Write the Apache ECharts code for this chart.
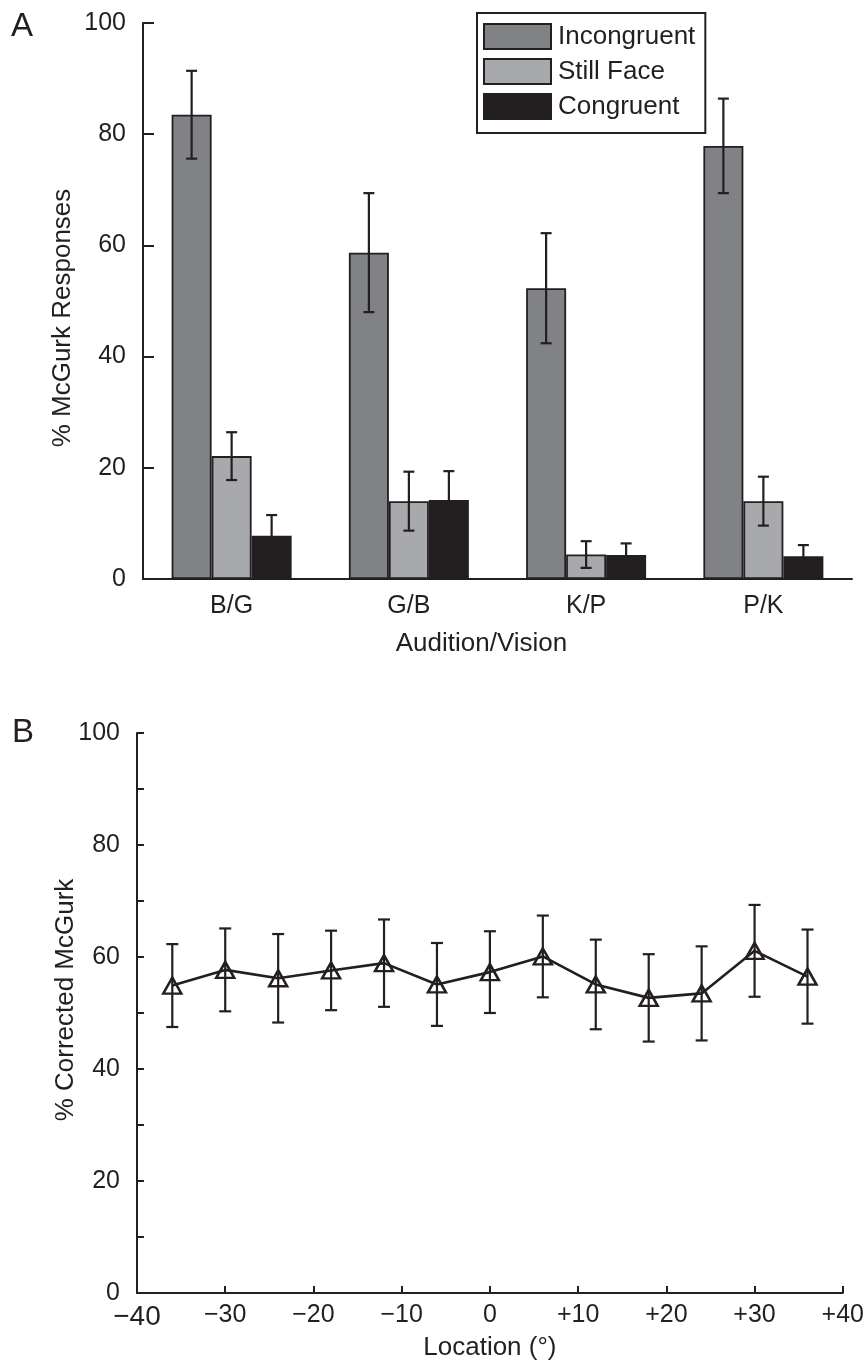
<!DOCTYPE html>
<html>
<head>
<meta charset="utf-8">
<script src="https://cdn.jsdelivr.net/npm/echarts@6/dist/echarts.min.js"></script>
<style>
html,body{margin:0;padding:0;background:#fff;}
#chart{width:867px;height:1362px;}
</style>
</head>
<body>
<div id="chart"></div>
<script>
// ---------- Panel A data ----------
const categoriesA = ['B/G', 'G/B', 'K/P', 'P/K'];
const seriesNamesA = ['Incongruent', 'Still Face', 'Congruent'];
const incongruent = [83.5, 58.7, 52.3, 77.9];
const incongruentErr = [7.9, 10.7, 9.9, 8.5];
const stillFace = [22.1, 14.0, 4.4, 14.0];
const stillFaceErr = [4.3, 5.3, 2.4, 4.4];
const congruent = [7.8, 14.2, 4.3, 4.1];
const congruentErr = [3.7, 5.2, 2.1, 2.0];
const yTicksA = [0, 20, 40, 60, 80, 100];

// ---------- Panel B data ----------
const locations = [-36, -30, -24, -18, -12, -6, 0, 6, 12, 18, 24, 30, 36];
const correctedMcGurk = [54.9, 57.7, 56.2, 57.6, 58.9, 55.1, 57.3, 60.1, 55.1, 52.7, 53.5, 61.1, 56.5];
const correctedErr = [7.4, 7.4, 7.9, 7.1, 7.8, 7.4, 7.3, 7.3, 8.0, 7.8, 8.4, 8.2, 8.4];
const xTicksB = [-40, -30, -20, -10, 0, 10, 20, 30, 40];

const INK = '#231f20';
const FONT = '"Liberation Sans", Arial, Helvetica, sans-serif';
const colorsA = ['#808285', '#a7a9ac', '#231f20'];
const BAR_W = 40;

const chart = echarts.init(document.getElementById('chart'), null, {renderer: 'canvas'});

const valsA = [incongruent, stillFace, congruent];
const errsA = [incongruentErr, stillFaceErr, congruentErr];

function errRender(offset, cap) {
  return function (params, api) {
    const x = api.value(0), y = api.value(1), e = api.value(2);
    const top = api.coord([x, y + e]);
    const bot = api.coord([x, y - e]);
    const cx = top[0] + offset;
    const st = {stroke: INK, lineWidth: 2.2};
    return {
      type: 'group',
      children: [
        {type: 'line', shape: {x1: cx, y1: top[1], x2: cx, y2: bot[1]}, style: st},
        {type: 'line', shape: {x1: cx - cap / 2, y1: top[1], x2: cx + cap / 2, y2: top[1]}, style: st},
        {type: 'line', shape: {x1: cx - cap / 2, y1: bot[1], x2: cx + cap / 2, y2: bot[1]}, style: st}
      ]
    };
  };
}

const barSeries = seriesNamesA.map((name, s) => ({
  type: 'bar',
  name: name,
  xAxisIndex: 0, yAxisIndex: 0,
  data: valsA[s],
  barWidth: BAR_W,
  barGap: '0%',
  itemStyle: {color: colorsA[s], borderColor: INK, borderWidth: 1.8},
  emphasis: {disabled: true},
  z: 2
}));

const errSeriesA = seriesNamesA.map((name, s) => ({
  type: 'custom',
  xAxisIndex: 0, yAxisIndex: 0,
  data: categoriesA.map((c, i) => [i, valsA[s][i], errsA[s][i]]),
  encode: {x: 0, y: 1},
  renderItem: errRender((s - 1) * BAR_W, 11),
  silent: true,
  z: 5
}));

const errSeriesB = {
  type: 'custom',
  xAxisIndex: 1, yAxisIndex: 1,
  data: locations.map((l, i) => [l, correctedMcGurk[i], correctedErr[i]]),
  encode: {x: 0, y: 1},
  renderItem: errRender(0, 12),
  silent: true,
  z: 3
};

const lineB = {
  type: 'line',
  xAxisIndex: 1, yAxisIndex: 1,
  data: locations.map((l, i) => [l, correctedMcGurk[i]]),
  symbol: 'triangle',
  symbolSize: [18, 16],
  showSymbol: true,
  lineStyle: {color: INK, width: 2.6},
  itemStyle: {color: 'rgba(255,255,255,0)', borderColor: INK, borderWidth: 2.5},
  emphasis: {disabled: true},
  z: 4
};

const axisLabelStyle = {color: INK, fontSize: 25, fontFamily: FONT};

const option = {
  animation: false,
  backgroundColor: '#fff',
  textStyle: {fontFamily: FONT},
  grid: [
    {left: 143, top: 23, width: 709, height: 556, containLabel: false},
    {left: 137, top: 733, width: 713, height: 560, containLabel: false}
  ],
  legend: {
    data: seriesNamesA,
    orient: 'vertical',
    left: 477, top: 13,
    itemWidth: 67, itemHeight: 25, itemGap: 8,
    padding: [10, 10, 13, 6],
    borderColor: INK, borderWidth: 2,
    backgroundColor: '#fff',
    icon: 'rect',
    selectedMode: false,
    textStyle: {color: INK, fontSize: 26, lineHeight: 25, fontFamily: FONT, padding: [0, 0, 0, 2]}
  },
  xAxis: [
    {
      type: 'category', gridIndex: 0, data: categoriesA,
      axisLine: {onZero: false, lineStyle: {color: INK, width: 2}},
      axisTick: {show: false},
      axisLabel: Object.assign({margin: 15}, axisLabelStyle),
      splitLine: {show: false},
      name: 'Audition/Vision', nameLocation: 'middle', nameGap: 52, nameMoveOverlap: false,
      nameTextStyle: {color: INK, fontSize: 26, fontFamily: FONT, padding: [0, 32, 0, 0]}
    },
    {
      type: 'value', gridIndex: 1, min: -40, max: 40, interval: 10,
      axisLine: {onZero: false, lineStyle: {color: INK, width: 2}},
      axisTick: {show: true, inside: true, length: 7, lineStyle: {color: INK, width: 2}},
      axisLabel: Object.assign({
        margin: 10,
        formatter: function (v) {
          if (v === -40) return '{big|−40}';
          if (v < 0) return '−' + Math.abs(v);
          if (v > 0) return '+' + v;
          return '0';
        },
        rich: {big: {fontSize: 28, color: INK, fontFamily: FONT}}
      }, axisLabelStyle),
      splitLine: {show: false},
      name: 'Location (°)', nameLocation: 'middle', nameGap: 42, nameMoveOverlap: false,
      nameTextStyle: {color: INK, fontSize: 26, fontFamily: FONT}
    }
  ],
  yAxis: [
    {
      type: 'value', gridIndex: 0, min: 0, max: 100, interval: 20,
      axisLine: {show: true, onZero: false, lineStyle: {color: INK, width: 2}},
      axisTick: {show: true, inside: true, length: 11, lineStyle: {color: INK, width: 2}},
      axisLabel: Object.assign({margin: 17}, axisLabelStyle),
      splitLine: {show: false},
      name: '% McGurk Responses', nameLocation: 'middle', nameRotate: 90, nameGap: 67, nameMoveOverlap: false,
      nameTextStyle: {color: INK, fontSize: 26, fontFamily: FONT, padding: [0, 34, 0, 0]}
    },
    {
      type: 'value', gridIndex: 1, min: 0, max: 100, interval: 20,
      axisLine: {show: true, onZero: false, lineStyle: {color: INK, width: 2}},
      axisTick: {show: true, inside: true, length: 7, lineStyle: {color: INK, width: 2}},
      minorTick: {show: true, splitNumber: 2, length: 7, lineStyle: {color: INK, width: 2}},
      axisLabel: Object.assign({margin: 17}, axisLabelStyle),
      splitLine: {show: false},
      name: '% Corrected McGurk', nameLocation: 'middle', nameRotate: 90, nameGap: 58, nameMoveOverlap: false,
      nameTextStyle: {color: INK, fontSize: 26, fontFamily: FONT, padding: [0, 0, 0, 26]}
    }
  ],
  graphic: [
    {type: 'text', left: 11, top: 10, style: {text: 'A', fontSize: 33, fill: INK, fontFamily: FONT}},
    {type: 'text', left: 12, top: 716, style: {text: 'B', fontSize: 33, fill: INK, fontFamily: FONT}}
  ],
  series: [].concat(barSeries, errSeriesA, [lineB, errSeriesB])
};

chart.setOption(option);
</script>
</body>
</html>
